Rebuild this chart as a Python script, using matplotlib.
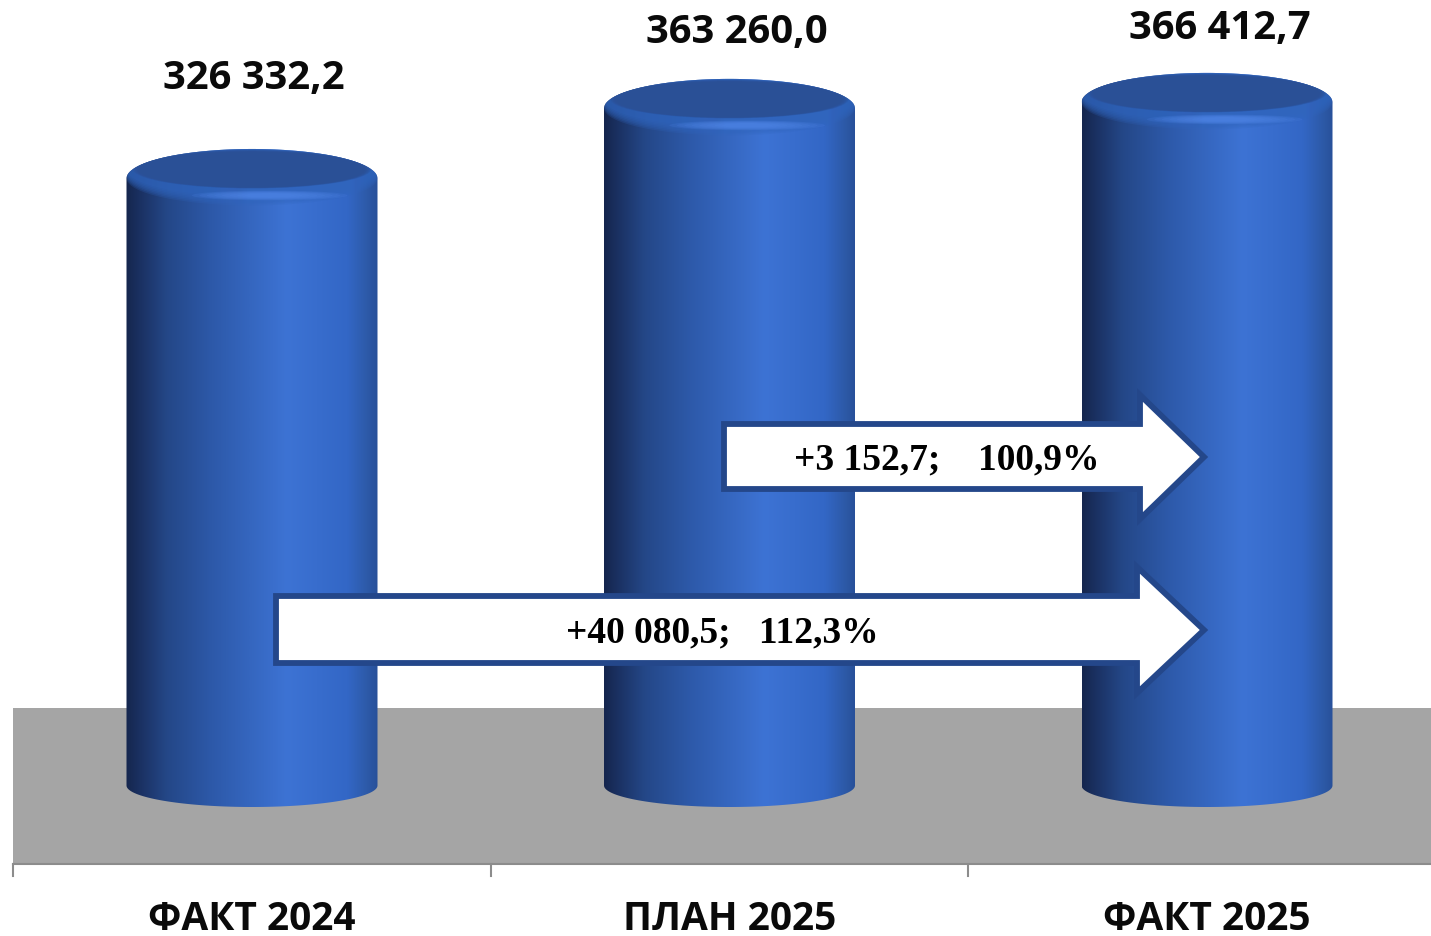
import numpy as np
import matplotlib
matplotlib.use('Agg')
import matplotlib.pyplot as plt
from matplotlib.colors import LinearSegmentedColormap
from matplotlib.patches import Ellipse, Polygon, PathPatch, Rectangle
from matplotlib.path import Path

categories = ['ФАКТ 2024', 'ПЛАН 2025', 'ФАКТ 2025']
values = [326332.2, 363260.0, 366412.7]
value_labels = ['326 332,2', '363 260,0', '366 412,7']
arrow_labels = ['+3 152,7;    100,9%', '+40 080,5;   112,3%']

W, H = 1431, 937
STEP = 477.5       # px per category
K = 527.0          # value units per px
Y0 = 798.7         # px row of value 0
X0 = 252           # px column of first category


def X(px):
    return (px - X0) / STEP


def Y(px):
    return (Y0 - px) * K


body = LinearSegmentedColormap.from_list('body', [
    (0.0, '#15264e'), (0.06, '#1b3264'), (0.16, '#244787'), (0.34, '#2d59a9'),
    (0.64, '#3d73d4'), (0.88, '#3367c6'), (0.96, '#2d5aa8'), (1.0, '#28509a')])
grad = np.linspace(0, 1, 256).reshape(1, -1)

fig = plt.figure(figsize=(W / 100, H / 100), dpi=100)
ax = fig.add_axes([0, 0, 1, 1])
ax.set_xlim(X(0), X(W))
ax.set_ylim(Y(H), Y(0))
ax.axis('off')

# floor and axis
ax.add_patch(Rectangle((X(13), Y(865)), X(W) - X(13), Y(708.5) - Y(865),
                       fc='#a5a5a5', ec='none', zorder=1))
ax.plot([X(13), X(W)], [Y(865), Y(865)], color='#8c8c8c', lw=1.5, zorder=2)
for i in range(len(categories)):
    ax.plot([i - 0.5, i - 0.5], [Y(865), Y(877)], color='#8c8c8c', lw=1.5, zorder=2)

half = 125.5 / STEP
base_px = 786.5
label_dx = [2, 7, 13]
label_px = [78, 32, 29]
for i, v in enumerate(values):
    top = v
    x0, x1 = i - half, i + half
    # outline: bottom arc, then the upper arc of the top ellipse
    t = np.linspace(np.pi, 2 * np.pi, 80)
    t2 = np.linspace(0, np.pi, 80)
    xs = np.r_[i + half * np.cos(t), i + half * np.cos(t2)]
    ys = np.r_[Y(base_px) + 21.5 * K * np.sin(t), top + 29.5 * K * np.sin(t2)]
    verts = np.column_stack([xs, ys])
    clip = PathPatch(Path(np.vstack([verts, verts[0]]), closed=True), fc='none', ec='none')
    ax.add_patch(clip)
    im = ax.imshow(grad, cmap=body, extent=(x0, x1, Y(base_px + 25), top + 31 * K),
                   aspect='auto', zorder=3, interpolation='bilinear')
    im.set_clip_path(clip)

    # soft rim around the top, fades down into the wall
    for j in range(7):
        e = Ellipse((i, top + j * 1.5 * K), 2 * half, 2 * 27 * K, fc='#3065bd', alpha=0.22, ec='none', zorder=4)
        ax.add_patch(e)
        e.set_clip_path(clip)
    # highlight at the front of the bevel
    for j in range(8):
        f = j / 7
        ax.add_patch(Ellipse((i + 0.037, top - 17 * K), 2 * half * (0.62 - 0.42 * f), (10 - 6 * f) * K,
                             fc='#5288ea', alpha=0.16, ec='none', zorder=4.1))
    # flat darker face, feathered edge
    n = 9
    for j in range(n):
        f = j / (n - 1)
        e = Ellipse((i, top + (9.5 - f) * K), 2 * half * (0.95 - 0.09 * f),
                    2 * (19.5 - 3 * f) * K, fc='#2a5096', alpha=0.3 + 0.05 * j, ec='none',
                    zorder=4.2 + j * 0.01)
        ax.add_patch(e)
        e.set_clip_path(clip)

    ax.text(i + label_dx[i] / STEP, Y(label_px[i]), value_labels[i],
            ha='center', va='center', fontsize=28.8, fontweight='bold', family='Open Sans',
            color='#0a0a0a', zorder=8)
    ax.text(i, Y(930), categories[i], ha='center', va='baseline', fontsize=28,
            fontweight='bold', family='Open Sans', color='#0a0a0a', zorder=8)

# change arrows
arrow_px = [(724, 1140, 425, 490, 396, 520, 1204, 458, 947),
            (276, 1137, 597, 664, 568, 694, 1204, 631, 722)]
for lab, (l, r, b0, b1, h0, h1, tip, mid, tx) in zip(arrow_labels, arrow_px):
    pts = [(l, b0), (r, b0), (r, h0), (tip, mid), (r, h1), (r, b1), (l, b1)]
    ax.add_patch(Polygon([(X(a), Y(b)) for a, b in pts], closed=True, fc='white',
                         ec='#24478a', lw=4.2, joinstyle='miter', zorder=6))
    ax.text(X(tx), Y(mid + 2), lab, ha='center', va='center', fontsize=27, fontweight='bold',
            family='Liberation Serif', color='black', zorder=7)

ax.set_xlim(X(0), X(W))
ax.set_ylim(Y(H), Y(0))
fig.savefig('out.png', dpi=100)
